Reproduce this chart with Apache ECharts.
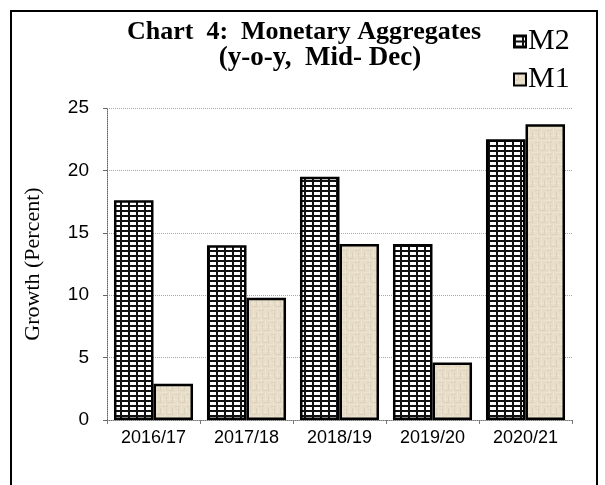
<!DOCTYPE html>
<html><head><meta charset="utf-8">
<script src="https://cdn.jsdelivr.net/npm/echarts@6/dist/echarts.min.js"></script>
<style>html,body{margin:0;padding:0;background:#fff}#c{width:605px;height:485px}</style>
</head><body><div id="c"></div>
<script>
const categories = ['2016/17','2017/18','2018/19','2019/20','2020/21'];
const m2Values = [17.6, 14.0, 19.5, 14.1, 22.5];
const m1Values = [2.9, 9.8, 14.1, 4.6, 23.7];
const yTicks = [0, 5, 10, 15, 20, 25];
const titleLine1 = 'Chart  4:  Monetary Aggregates';
const titleLine2 = '(y-o-y,  Mid- Dec)';

function gridPattern(){
  const c = document.createElement('canvas');
  c.width = 8; c.height = 5;
  const g = c.getContext('2d');
  g.fillStyle = '#ffffff'; g.fillRect(0,0,8,5);
  g.fillStyle = '#111111';
  g.fillRect(0,0,2,5);
  g.fillRect(0,0,8,2);
  return c;
}
function linenPattern(){
  const c = document.createElement('canvas');
  c.width = 12; c.height = 12;
  const g = c.getContext('2d');
  g.fillStyle = '#e6dcc7'; g.fillRect(0,0,12,12);
  g.fillStyle = '#ece4d3';
  g.fillRect(1,0,1,12); g.fillRect(6,0,1,5); g.fillRect(9,4,1,8);
  g.fillRect(0,3,12,1); g.fillRect(3,8,6,1);
  g.fillStyle = '#dcd1ba';
  g.fillRect(4,0,1,7); g.fillRect(10,1,1,6); g.fillRect(0,6,5,1); g.fillRect(7,10,5,1);
  return c;
}

const chart = echarts.init(document.getElementById('c'), null, {renderer:'canvas'});
chart.setOption({
  animation: false,
  backgroundColor: '#ffffff',
  legend: {
    orient: 'vertical', left: 508, top: 21, itemGap: 7,
    itemWidth: 12, itemHeight: 12, icon: 'rect',
    textStyle: {fontFamily: 'Liberation Serif', fontSize: 30, lineHeight: 31, color: '#000', padding: [0,0,0,-3]},
    data: ['M2','M1']
  },
  grid: {left: 107, right: 33, top: 108, bottom: 65},
  xAxis: {
    type: 'category', data: categories,
    axisLine: {lineStyle: {color: '#777', type: 'dotted', width: 1}},
    axisTick: {show: true, length: 4, lineStyle: {color: '#777'}},
    axisLabel: {fontFamily: 'Liberation Sans', fontSize: 18, color: '#000', margin: 9}
  },
  yAxis: {
    type: 'value', min: 0, max: 25, interval: 5,
    name: 'Growth (Percent)', nameLocation: 'middle', nameGap: 63,
    nameTextStyle: {fontFamily: 'Liberation Serif', fontSize: 22, color: '#000'},
    axisLine: {show: true, lineStyle: {color: '#666', type: 'dotted', width: 1}},
    axisTick: {show: true, length: 4, lineStyle: {color: '#666'}},
    axisLabel: {fontFamily: 'Liberation Sans', fontSize: 19, color: '#000', margin: 18,
      formatter: v => yTicks.includes(v) ? String(v) : ''},
    splitLine: {lineStyle: {color: '#aaa', type: 'dotted', width: 1}}
  },
  series: [
    {name: 'M2', type: 'bar', data: m2Values, barGap: '0%', barCategoryGap: '15%',
     itemStyle: {color: {image: gridPattern(), repeat: 'repeat'}, borderColor: '#000', borderWidth: 2.5}},
    {name: 'M1', type: 'bar', data: m1Values,
     itemStyle: {color: {image: linenPattern(), repeat: 'repeat'}, borderColor: '#000', borderWidth: 2.5}}
  ],
  graphic: [
    {type: 'text', x: 304, y: 32, silent: true,
     style: {text: titleLine1, fill: '#000', font: 'bold 26px "Liberation Serif"', textAlign: 'center', textVerticalAlign: 'middle'}},
    {type: 'text', x: 320, y: 58, silent: true,
     style: {text: titleLine2, fill: '#000', font: 'bold 27px "Liberation Serif"', textAlign: 'center', textVerticalAlign: 'middle'}},
    {type: 'rect', shape: {x: 11, y: 11, width: 586, height: 490}, style: {fill: null, stroke: '#000', lineWidth: 2}, silent: true, z: 100}
  ]
});
</script></body></html>
